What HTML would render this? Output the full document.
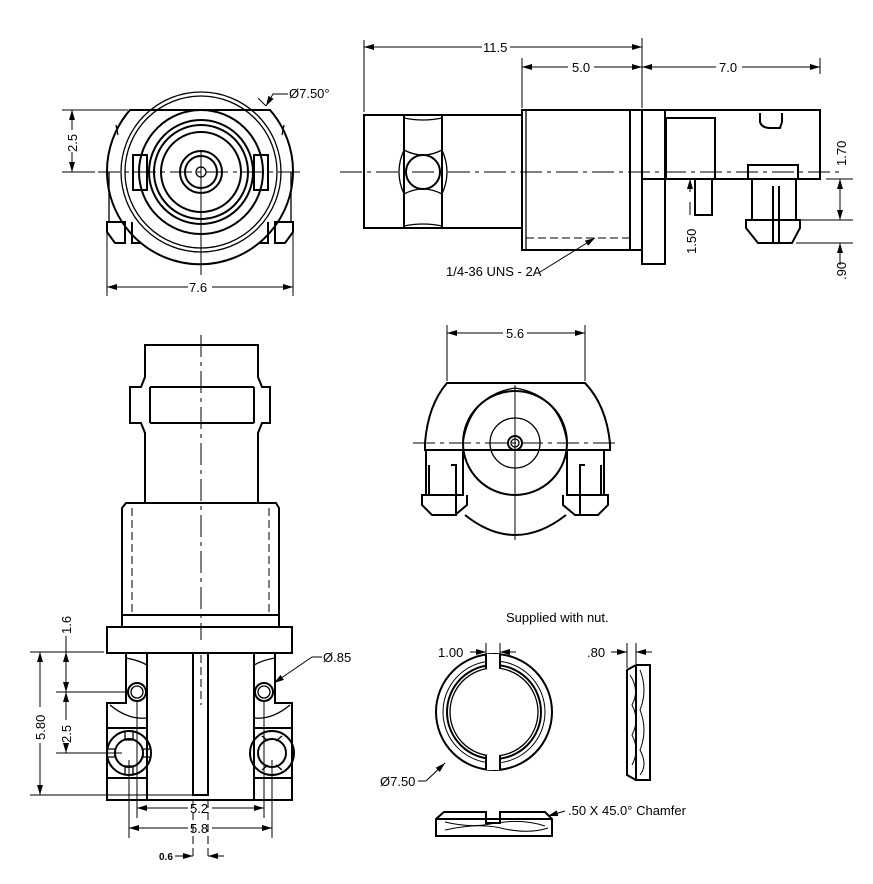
<!DOCTYPE html>
<html><head><style>
html,body{margin:0;padding:0;background:#fff;}
svg{display:block;}
text{font-family:"Liberation Sans",sans-serif;font-size:13px;fill:#000;}
.t{stroke:#000;stroke-width:2;fill:none;}
.m{stroke:#000;stroke-width:1.3;fill:none;}
.n{stroke:#000;stroke-width:1;fill:none;}
.c{stroke:#000;stroke-width:1;fill:none;stroke-dasharray:22 5 4 5;}
.d{stroke:#000;stroke-width:1;fill:none;stroke-dasharray:8 4;}
</style></head><body>
<svg width="873" height="884" viewBox="0 0 873 884" xmlns="http://www.w3.org/2000/svg">
<defs>
<marker id="a" viewBox="0 0 10 6" refX="10" refY="3" markerWidth="10" markerHeight="6" orient="auto-start-reverse" markerUnits="userSpaceOnUse"><path d="M0,0L10,3L0,6z" fill="#000"/></marker>
</defs>

<!-- ===== Top-left front view ===== -->
<g>
<path class="t" d="M130,110 L270,110 A93,93 0 1,1 130,110 Z"/>
<circle class="m" cx="201" cy="172" r="80"/>
<circle class="m" cx="201" cy="172" r="76"/>
<circle class="t" cx="201" cy="172" r="62"/>
<circle class="t" cx="201" cy="172" r="52"/>
<circle class="t" cx="201" cy="172" r="47"/>
<circle class="t" cx="201" cy="172" r="40"/>
<circle class="t" cx="201" cy="172" r="21"/>
<circle class="t" cx="201" cy="172" r="16"/>
<circle class="m" cx="201" cy="172" r="5"/>
<rect class="t" x="133" y="155" width="14" height="35"/>
<rect class="t" x="254" y="155" width="14" height="35"/>
<path class="t" d="M107,222 L125,222 L125,243 L115,243 L107,232 Z M132,222 L132,243 L140,243"/>
<path class="t" d="M293,222 L275,222 L275,243 L285,243 L293,232 Z M268,222 L268,243 L260,243"/>
<path class="m" d="M109,172 L109,222 M291,172 L291,222 M116,125 L118,135 M284,125 L282,135"/>
<line class="c" x1="98" y1="172" x2="303" y2="172"/>
<line class="n" x1="201" y1="150" x2="201" y2="275"/>
<line class="n" x1="62" y1="110" x2="128" y2="110"/>
<line class="n" x1="62" y1="172" x2="95" y2="172"/>
<line class="n" x1="72" y1="110" x2="72" y2="130" marker-start="url(#a)"/>
<line class="n" x1="72" y1="152" x2="72" y2="172" marker-end="url(#a)"/>
<text transform="translate(77,152) rotate(-90)">2.5</text>
<line class="n" x1="107" y1="222" x2="107" y2="296"/>
<line class="n" x1="293" y1="222" x2="293" y2="296"/>
<line class="n" x1="107" y1="287" x2="188" y2="287" marker-start="url(#a)"/>
<line class="n" x1="212" y1="287" x2="293" y2="287" marker-end="url(#a)"/>
<text x="189" y="292">7.6</text>
<path class="n" d="M258,98 L266,106" />
<path class="n" d="M266,106 L273,94 L288,94" marker-start="url(#a)"/>
<text x="289" y="98">Ø7.50°</text>
</g>

<!-- ===== Top-right side view ===== -->
<g>
<rect class="t" x="364" y="115" width="158" height="113"/>
<line class="t" x1="404" y1="115" x2="404" y2="228"/>
<line class="t" x1="442" y1="115" x2="442" y2="228"/>
<circle class="t" cx="423" cy="172" r="17"/>
<path class="m" d="M404,150 Q423,160 442,150 M404,194 Q423,184 442,194 M404,150 Q394,172 404,194 M442,150 Q452,172 442,194 M404,118 Q423,122 442,118 M404,226 Q423,222 442,226"/>
<rect class="t" x="522" y="110" width="108" height="140"/>
<line class="m" x1="526" y1="110" x2="526" y2="250"/>
<rect class="t" x="630" y="110" width="12" height="140"/>
<rect class="t" x="642" y="110" width="178" height="69"/>
<rect class="t" x="642" y="110" width="23" height="154"/>
<rect class="t" x="666" y="118" width="49" height="61"/>
<rect class="t" x="695" y="179" width="17" height="36"/>
<path class="t" d="M760,113 L760,122 Q762,128 770,128 L780,128 L782,122 L782,113"/>
<rect class="t" x="748" y="165" width="50" height="14"/>
<path class="t" d="M752,179 L752,220 L796,220 L796,179 M746,220 L800,220 L800,228 L792,243 L758,243 L746,228 Z M773,186 L773,243 M779,186 L779,243"/>
<line class="d" x1="526" y1="238" x2="630" y2="238"/>
<line class="c" x1="340" y1="172" x2="840" y2="172"/>
<line class="n" x1="364" y1="40" x2="364" y2="112"/>
<line class="n" x1="522" y1="58" x2="522" y2="108"/>
<line class="n" x1="642" y1="38" x2="642" y2="108"/>
<line class="n" x1="820" y1="58" x2="820" y2="74"/>
<line class="n" x1="364" y1="47" x2="482" y2="47" marker-start="url(#a)"/>
<line class="n" x1="510" y1="47" x2="642" y2="47" marker-end="url(#a)"/>
<text x="483" y="52">11.5</text>
<line class="n" x1="522" y1="67" x2="568" y2="67" marker-start="url(#a)"/>
<line class="n" x1="594" y1="67" x2="642" y2="67" marker-end="url(#a)"/>
<text x="572" y="72">5.0</text>
<line class="n" x1="642" y1="67" x2="716" y2="67" marker-start="url(#a)"/>
<line class="n" x1="742" y1="67" x2="820" y2="67" marker-end="url(#a)"/>
<text x="719" y="72">7.0</text>
<line class="n" x1="826" y1="179" x2="853" y2="179"/>
<line class="n" x1="800" y1="220" x2="853" y2="220"/>
<line class="n" x1="796" y1="243" x2="853" y2="243"/>
<line class="n" x1="840" y1="179" x2="840" y2="220" marker-start="url(#a)" marker-end="url(#a)"/>
<text transform="translate(846,166) rotate(-90)">1.70</text>
<line class="n" x1="840" y1="265" x2="840" y2="243" marker-end="url(#a)"/>
<text transform="translate(846,280) rotate(-90)">.90</text>
<line class="n" x1="690" y1="179" x2="690" y2="192" marker-start="url(#a)"/>
<text transform="translate(696,254) rotate(-90)">1.50</text>
<line class="n" x1="690" y1="202" x2="690" y2="215"/>
<line class="n" x1="540" y1="272" x2="595" y2="238" marker-end="url(#a)"/>
<text x="446" y="276">1/4-36 UNS - 2A</text>
</g>

<!-- ===== Middle-right front view ===== -->
<g>
<path class="t" d="M447,383 L585,383 Q606,405 610,443 L610,450 L425,450 L425,443 Q428,405 447,383 Z"/>
<path class="t" d="M465,515 Q515,555 566,515"/>
<circle class="t" cx="515" cy="443" r="52"/>
<path class="m" d="M463,443 Q470,395 515,388 Q560,395 567,443"/>
<circle class="m" cx="515" cy="443" r="25"/>
<circle class="t" cx="515" cy="443" r="7"/>
<circle class="m" cx="515" cy="443" r="4"/>
<path class="t" d="M426,450 L426,495 L463,495 L463,450 M426,495 L422,495 L422,505 L432,515 L455,515 L467,505 L467,495 M429,465 L429,495 M451,465 L456,465 L456,515 L452,515"/>
<path class="t" d="M604,450 L604,495 L567,495 L567,450 M604,495 L608,495 L608,505 L598,515 L575,515 L563,505 L563,495 M601,465 L601,495 M585,465 L580,465 L580,515"/>
<line class="c" x1="413" y1="443" x2="618" y2="443"/>
<line class="n" x1="515" y1="385" x2="515" y2="540"/>
<line class="n" x1="447" y1="325" x2="447" y2="381"/>
<line class="n" x1="585" y1="325" x2="585" y2="381"/>
<line class="n" x1="447" y1="333" x2="503" y2="333" marker-start="url(#a)"/>
<line class="n" x1="527" y1="333" x2="585" y2="333" marker-end="url(#a)"/>
<text x="506" y="338">5.6</text>
</g>

<!-- ===== Bottom-left view ===== -->
<g>
<path class="t" d="M145,345 L258,345 L258,377 L262,387 L270,387 L270,423 L262,423 L258,433 L258,503 L145,503 L145,433 L141,423 L130,423 L130,387 L141,387 L145,377 Z"/>
<line class="t" x1="150" y1="387" x2="254" y2="387"/>
<line class="t" x1="150" y1="423" x2="254" y2="423"/>
<line class="t" x1="150" y1="387" x2="150" y2="423"/>
<line class="t" x1="254" y1="387" x2="254" y2="423"/>
<path class="t" d="M126,503 L276,503 L279,508 L279,627 L122,627 L122,508 Z"/>
<line class="t" x1="122" y1="615" x2="279" y2="615"/>
<line class="d" x1="132" y1="508" x2="132" y2="615"/>
<line class="d" x1="269" y1="508" x2="269" y2="615"/>
<rect class="t" x="107" y="627" width="185" height="26"/>
<path class="t" d="M126,653 L126,703 L107,703 L107,800 L292,800 L292,703 L275,703 L275,653 M147,653 L147,800 M254,653 L254,800 M107,728 L147,728 M107,778 L147,778 M254,728 L292,728 M254,778 L292,778"/>
<rect class="t" x="193" y="653" width="15" height="142"/>
<path class="m" d="M110,705 Q128,720 147,718 M290,705 Q272,720 254,718 M126,658 Q138,660 147,665 M275,658 Q263,660 254,665"/>
<circle class="t" cx="137" cy="692" r="9"/>
<circle class="m" cx="137" cy="692" r="6"/>
<circle class="t" cx="264" cy="692" r="9"/>
<circle class="m" cx="264" cy="692" r="6"/>
<circle class="t" cx="129" cy="753" r="22"/>
<circle class="t" cx="129" cy="753" r="14"/>
<circle class="t" cx="272" cy="753" r="22"/>
<circle class="t" cx="272" cy="753" r="14"/>
<path class="m" d="M125,731 L125,740 L133,740 L133,731 M125,775 L125,766 L133,766 L133,775 M107,749 L115,749 L115,757 L107,757 M151,749 L143,749 L143,757 L151,757 M262,736 L268,741 M282,736 L276,741 M262,770 L268,765 M282,770 L276,765"/>
<line class="c" x1="201" y1="335" x2="201" y2="640"/>
<line class="d" x1="201" y1="655" x2="201" y2="705"/>
<line class="n" x1="30" y1="652" x2="104" y2="652"/>
<line class="n" x1="56" y1="692" x2="128" y2="692"/>
<line class="n" x1="56" y1="753" x2="122" y2="753"/>
<line class="n" x1="30" y1="795" x2="192" y2="795"/>
<line class="n" x1="40" y1="652" x2="40" y2="707" marker-start="url(#a)"/>
<line class="n" x1="40" y1="743" x2="40" y2="795" marker-end="url(#a)"/>
<text transform="translate(45,740) rotate(-90)">5.80</text>
<line class="n" x1="66" y1="636" x2="66" y2="652"/>
<text transform="translate(71,634) rotate(-90)">1.6</text>
<line class="n" x1="66" y1="652" x2="66" y2="692" marker-start="url(#a)" marker-end="url(#a)"/>
<line class="n" x1="66" y1="692" x2="66" y2="720" marker-start="url(#a)"/>
<text transform="translate(71,743) rotate(-90)">2.5</text>
<line class="n" x1="66" y1="745" x2="66" y2="753" marker-end="url(#a)"/>
<line class="n" x1="137" y1="700" x2="137" y2="818"/>
<line class="n" x1="264" y1="700" x2="264" y2="818"/>
<line class="n" x1="129" y1="760" x2="129" y2="838"/>
<line class="n" x1="272" y1="760" x2="272" y2="838"/>
<line class="d" x1="193" y1="800" x2="193" y2="860"/>
<line class="d" x1="208" y1="800" x2="208" y2="860"/>
<line class="n" x1="137" y1="808" x2="188" y2="808" marker-start="url(#a)"/>
<line class="n" x1="212" y1="808" x2="264" y2="808" marker-end="url(#a)"/>
<text x="190" y="813">5.2</text>
<line class="n" x1="129" y1="828" x2="188" y2="828" marker-start="url(#a)"/>
<line class="n" x1="212" y1="828" x2="272" y2="828" marker-end="url(#a)"/>
<text x="190" y="833">5.8</text>
<line class="n" x1="175" y1="856" x2="193" y2="856" marker-end="url(#a)"/>
<line class="n" x1="224" y1="856" x2="208" y2="856" marker-end="url(#a)"/>
<text x="159" y="860" style="font-size:10px;font-weight:bold">0.6</text>
<line class="n" x1="274" y1="683" x2="312" y2="657" marker-start="url(#a)"/>
<line class="n" x1="312" y1="657" x2="322" y2="657"/>
<text x="323" y="662">Ø.85</text>
</g>

<!-- ===== Nut ===== -->
<g>
<text x="506" y="622">Supplied with nut.</text>
<circle class="t" cx="494" cy="712" r="58"/>
<circle class="t" cx="494" cy="712" r="47"/>
<circle class="m" cx="494" cy="712" r="44"/>
<circle class="n" cx="494" cy="712" r="51"/>
<rect x="486" y="654" width="14" height="15" fill="#fff" stroke="none"/>
<rect x="486" y="755" width="14" height="15" fill="#fff" stroke="none"/>
<path class="t" d="M486,654 L486,669 M500,654 L500,669 M486,755 L486,770 M500,755 L500,770"/>
<line class="n" x1="486" y1="643" x2="486" y2="656"/>
<line class="n" x1="500" y1="643" x2="500" y2="656"/>
<line class="n" x1="470" y1="652" x2="486" y2="652" marker-end="url(#a)"/>
<line class="n" x1="516" y1="652" x2="500" y2="652" marker-end="url(#a)"/>
<text x="438" y="657">1.00</text>
<text x="380" y="786">Ø7.50</text>
<line class="n" x1="418" y1="781" x2="426" y2="781"/>
<line class="n" x1="426" y1="781" x2="445" y2="763" marker-end="url(#a)"/>
<path class="t" d="M636,665 L650,665 L650,780 L636,780 L636,665 M636,665 L627,670 L627,775 L636,780"/>
<path class="n" d="M630,675 Q640,690 632,705 Q640,720 632,735 Q640,750 632,765 M640,670 Q648,690 640,710 Q648,730 640,750 Q648,765 640,775"/>
<line class="n" x1="627" y1="643" x2="627" y2="668"/>
<line class="n" x1="636" y1="643" x2="636" y2="664"/>
<line class="n" x1="611" y1="652" x2="627" y2="652" marker-end="url(#a)"/>
<line class="n" x1="652" y1="652" x2="636" y2="652" marker-end="url(#a)"/>
<text x="587" y="657">.80</text>
<path class="t" d="M444,812 L486,812 L486,823 L500,823 L500,812 L545,812 L552,819 L552,836 L436,836 L436,819 Z M436,819 L552,819"/>
<path class="n" d="M445,822 Q470,828 490,824 Q520,818 545,826 M445,830 Q480,822 505,829 Q530,834 548,828"/>
<line class="n" x1="565" y1="811" x2="548" y2="816" marker-end="url(#a)"/>
<text x="568" y="815">.50 X 45.0° Chamfer</text>
</g>
</svg>
</body></html>
